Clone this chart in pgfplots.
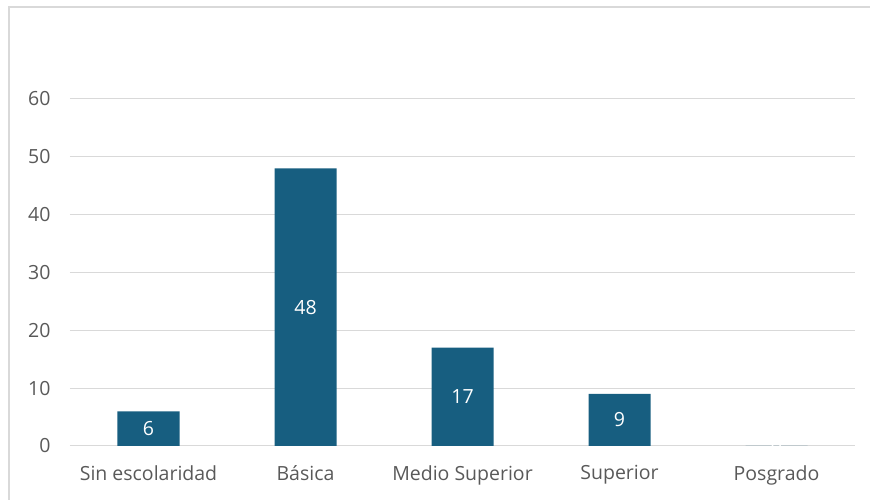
\documentclass[border=0pt]{standalone}
\usepackage{fontspec}
\setmainfont{Open Sans}
\usepackage{pgfplots}
\pgfplotsset{compat=1.18}

\definecolor{barblue}{HTML}{175E80}
\definecolor{gridgray}{HTML}{D9D9D9}
\definecolor{txtgray}{HTML}{595959}

\begin{document}
\begin{tikzpicture}
\begin{axis}[
    scale only axis,
    width=785pt,
    height=347pt,
    xmin=-0.5, xmax=4.5,
    ymin=0, ymax=60,
    xtick={0,1,2,3,4},
    xticklabels={Sin escolaridad, Básica, Medio Superior, Superior, Posgrado},
    ytick={0,10,...,60},
    ymajorgrids,
    grid style={gridgray, line width=1pt},
    axis line style={draw=none},
    major tick length=0pt,
    tick label style={font=\fontsize{19.5}{22}\selectfont, text=txtgray},
    /pgf/number format/assume math mode=true,
    yticklabel style={xshift=-16pt},
    xticklabel style={yshift=-16pt},
    clip=false,
]
\addplot[
    ybar,
    bar width=62pt,
    fill=barblue,
    draw=none,
    nodes near coords,
    visualization depends on={rawy \as \rawy},
    every node near coord/.append style={
        font=\fontsize{19.5}{22}\selectfont,
        text=white,
        anchor=center,
        shift={(axis direction cs:0,-\rawy/2)},
    },
] coordinates {
    (0,6)
    (1,48)
    (2,17)
    (3,9)
    (4,0)
};
\end{axis}
\draw[gridgray, line width=1.2pt]
    ([xshift=-61pt,yshift=-70pt]current axis.south west) |- ([xshift=40pt,yshift=92pt]current axis.north east);
\pgfresetboundingbox
\useasboundingbox ([xshift=-70pt,yshift=-54pt]current axis.south west) rectangle ([xshift=15pt,yshift=99pt]current axis.north east);
\end{tikzpicture}
\end{document}
